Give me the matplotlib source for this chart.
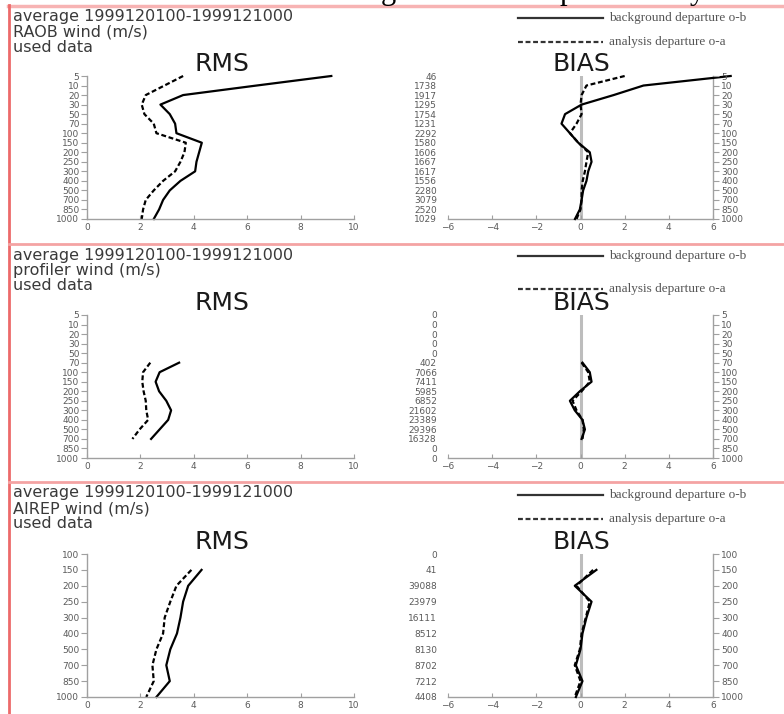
import numpy as np
import matplotlib
matplotlib.use("Agg")
import matplotlib.pyplot as plt
from matplotlib.lines import Line2D

# ---------------- data ----------------
levels_full = [5, 10, 20, 30, 50, 70, 100, 150, 200, 250, 300, 400, 500, 700, 850, 1000]
levels_airep = [100, 150, 200, 250, 300, 400, 500, 700, 850, 1000]

# RAOB
raob_levels = levels_full
raob_rms_ob = [9.15, 6.35, 3.6, 2.75, 3.1, 3.3, 3.35, 4.3, 4.2, 4.1, 4.05, 3.5, 3.1, 2.85, 2.7, 2.5]
raob_rms_oa = [3.6, 2.9, 2.2, 2.05, 2.15, 2.5, 2.6, 3.7, 3.65, 3.5, 3.3, 2.85, 2.5, 2.2, 2.1, 2.05]
raob_bias_ob = [6.8, 2.85, 1.5, 0.05, -0.7, -0.86, -0.48, -0.1, 0.42, 0.5, 0.35, 0.27, 0.12, 0.05, -0.03, -0.25]
raob_bias_oa = [2.0, 0.27, 0.05, 0.0, 0.05, -0.18, -0.48, -0.1, 0.35, 0.27, 0.2, 0.1, 0.05, 0.05, 0.0, -0.18]
raob_counts = ["46", "1738", "1917", "1295", "1754", "1231", "2292", "1580", "1606",
               "1667", "1617", "1556", "2280", "3079", "2520", "1029"]

# profiler
prof_levels = [70, 100, 150, 200, 250, 300, 400, 500, 700]
prof_rms_ob = [3.45, 2.72, 2.57, 2.7, 2.97, 3.15, 3.04, 2.72, 2.4]
prof_rms_oa = [2.37, 2.1, 2.07, 2.12, 2.2, 2.22, 2.29, 1.97, 1.7]
prof_bias_ob = [0.09, 0.42, 0.5, -0.03, -0.48, -0.26, 0.09, 0.2, 0.05]
prof_bias_oa = [0.05, 0.35, 0.42, 0.05, -0.36, -0.18, 0.09, 0.15, 0.09]
prof_counts = ["0", "0", "0", "0", "0", "402", "7066", "7411", "5985", "6852",
               "21602", "23389", "29396", "16328", "0", "0"]

# AIREP
airep_levels = [150, 200, 250, 300, 400, 500, 700, 850, 1000]
airep_rms_ob = [4.29, 3.79, 3.6, 3.5, 3.37, 3.12, 2.97, 3.1, 2.6]
airep_rms_oa = [3.91, 3.35, 3.12, 2.91, 2.85, 2.6, 2.45, 2.5, 2.22]
airep_bias_ob = [0.72, -0.26, 0.5, 0.27, 0.09, 0.0, -0.21, 0.09, -0.21]
airep_bias_oa = [0.57, -0.18, 0.42, 0.24, 0.05, -0.03, -0.26, 0.0, -0.26]
airep_counts = ["0", "41", "39088", "23979", "16111", "8512", "8130", "8702", "7212", "4408"]

header_line1 = "average 1999120100-1999121000"
header_line2 = ["RAOB wind (m/s)", "profiler wind (m/s)", "AIREP wind (m/s)"]
header_line3 = "used data"
legend_labels = ["background departure o-b", "analysis departure o-a"]

rms_xticks = [0, 2, 4, 6, 8, 10]
bias_xticks = [-6, -4, -2, 0, 2, 4, 6]

# ---------------- figure ----------------
W, H = 784, 714
fig = plt.figure(figsize=(W / 100, H / 100), dpi=100)

def fx(px):
    return px / W

def fy(py):
    return 1 - py / H

SPINE = "#a0a0a0"
TICKC = "#5a5a5a"
DASH = (2.2, 1.2)
TL = 6.5

def style_common(ax):
    for s in ax.spines.values():
        s.set_color(SPINE)
        s.set_linewidth(1.0)
    ax.tick_params(colors=SPINE, labelcolor=TICKC, labelsize=TL)

def draw_panel(ax_top, ax_bot, lev_axis, lev_data, rms_ob, rms_oa, bias_ob, bias_oa,
               counts, name, title_y, hdr_y, leg_y):
    n = len(lev_axis)
    idx = [lev_axis.index(l) for l in lev_data]
    h = (ax_bot - ax_top) / H
    # RMS axes
    ax = fig.add_axes([fx(87), fy(ax_bot), (354 - 87) / W, h])
    style_common(ax)
    ax.plot(rms_ob, idx, color="black", lw=1.6, clip_on=False)
    ax.plot(rms_oa, idx, color="black", lw=1.6, dashes=DASH, clip_on=False)
    ax.set_xlim(0, 10)
    ax.set_ylim(n - 1, 0)
    ax.set_xticks(rms_xticks)
    ax.set_yticks(range(n))
    ax.set_yticklabels([str(l) for l in lev_axis])
    ax.spines["top"].set_visible(False)
    ax.spines["right"].set_visible(False)
    ax.tick_params(axis="y", direction="out", length=4, pad=1.5)
    ax.tick_params(axis="x", direction="in", length=3, pad=3)
    ax.patch.set_visible(False)

    # BIAS axes
    bx = fig.add_axes([fx(448), fy(ax_bot), (713 - 448) / W, h])
    style_common(bx)
    bx.axvline(0, color="#bdbdbd", lw=2.2, zorder=1)
    bx.plot(bias_ob, idx, color="black", lw=1.6, clip_on=False, zorder=3)
    bx.plot(bias_oa, idx, color="black", lw=1.6, dashes=DASH, clip_on=False, zorder=3)
    bx.set_xlim(-6, 6)
    bx.set_ylim(n - 1, 0)
    bx.set_xticks(bias_xticks)
    bx.set_yticks(range(n))
    bx.set_yticklabels(counts)
    bx.spines["top"].set_visible(False)
    bx.spines["left"].set_visible(False)
    bx.spines["right"].set_visible(True)
    bx.tick_params(axis="y", left=False, length=0, pad=8)
    bx.tick_params(axis="x", direction="in", length=3, pad=3)
    bx.patch.set_visible(False)
    rx = bx.twinx()
    rx.set_ylim(n - 1, 0)
    rx.set_yticks(range(n))
    rx.set_yticklabels([str(l) for l in lev_axis])
    for s in rx.spines.values():
        s.set_visible(False)
    rx.tick_params(axis="y", colors=SPINE, labelcolor=TICKC, labelsize=TL,
                   direction="out", length=4, pad=2)

    # titles
    fig.text(fx(222), fy(title_y), "RMS", ha="center", va="center", fontsize=18, color="#1a1a1a")
    fig.text(fx(581), fy(title_y), "BIAS", ha="center", va="center", fontsize=18, color="#1a1a1a")

    # header
    for t, y in zip([header_line1, name, header_line3], hdr_y):
        fig.text(fx(13), fy(y), t, ha="left", va="center", fontsize=11.5, color="#3a3a3a")

    # legend
    fig.add_artist(Line2D([fx(518), fx(603)], [fy(leg_y[0])] * 2, color="#333333", lw=1.6))
    fig.add_artist(Line2D([fx(518), fx(603)], [fy(leg_y[1])] * 2, color="#333333", lw=1.6, dashes=DASH))
    for lab, y in zip(legend_labels, leg_y):
        fig.text(fx(609), fy(y), lab, ha="left", va="center", fontsize=9.5,
                 family="Liberation Serif", color="#555555")

draw_panel(76, 219, levels_full, raob_levels, raob_rms_ob, raob_rms_oa,
           raob_bias_ob, raob_bias_oa, raob_counts, header_line2[0], 64, [16, 32, 47], [18, 42])
draw_panel(315, 458, levels_full, prof_levels, prof_rms_ob, prof_rms_oa,
           prof_bias_ob, prof_bias_oa, prof_counts, header_line2[1], 303, [255, 271, 286], [256, 289])
draw_panel(554, 697, levels_airep, airep_levels, airep_rms_ob, airep_rms_oa,
           airep_bias_ob, airep_bias_oa, airep_counts, header_line2[2], 542, [493, 509, 524], [495, 519])

# page decoration: borders and separators
fig.add_artist(Line2D([fx(8), 1], [fy(5.5)] * 2, color="#f7b3b3", lw=2.5))
fig.add_artist(Line2D([fx(9), fx(9)], [fy(5), 0], color="#ec6a6a", lw=2))
for yy in (244, 482):
    fig.add_artist(Line2D([fx(9), 1], [fy(yy)] * 2, color="#f4a3a3", lw=2))

# cut-off heading glyphs above the page
for ch, x in (("g", 381), ("p", 560), ("y", 690)):
    fig.text(fx(x), 1 + 1.5 / H, ch, ha="left", va="baseline", fontsize=22,
             family="Liberation Serif", color="black")

fig.savefig("out.png", dpi=100)
